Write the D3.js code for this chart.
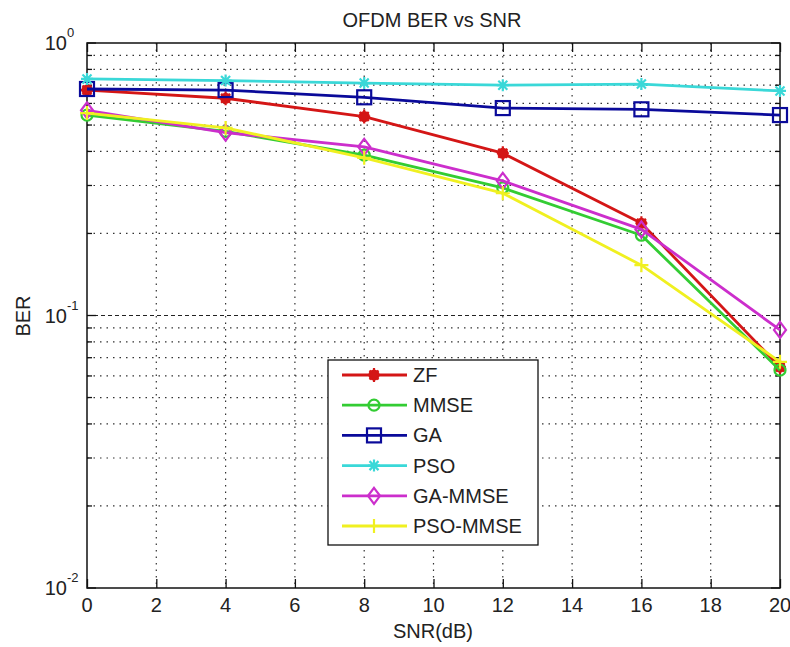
<!DOCTYPE html>
<html>
<head>
<meta charset="utf-8">
<script src="https://cdn.jsdelivr.net/npm/d3@7"></script>
<style>
  html, body { margin: 0; padding: 0; background: #fff; }
  svg { display: block; }
  text { font-family: "Liberation Sans", Arial, sans-serif; fill: #222; }
</style>
</head>
<body>
<svg id="chart" width="790" height="647"></svg>
<script>
// SNR points (dB)
const snr = [0, 4, 8, 12, 16, 20];

// Bit error rate per detector
const zf      = [0.672, 0.627, 0.537, 0.394, 0.218, 0.0647];
const mmse    = [0.544, 0.474, 0.388, 0.294, 0.197, 0.063];
const ga      = [0.678, 0.672, 0.632, 0.577, 0.571, 0.544];
const pso     = [0.738, 0.728, 0.713, 0.700, 0.707, 0.667];
const gaMmse  = [0.566, 0.469, 0.416, 0.312, 0.207, 0.0885];
const psoMmse = [0.553, 0.488, 0.379, 0.281, 0.153, 0.0676];

const seriesNames = ["ZF", "MMSE", "GA", "PSO", "GA-MMSE", "PSO-MMSE"];
const seriesValues = [zf, mmse, ga, pso, gaMmse, psoMmse];
const seriesColors = ["#d41616", "#33cc33", "#0a0a9a", "#3ad8d8", "#cc2ecc", "#f0f020"];
const seriesMarkers = ["star", "circle", "square", "asterisk", "diamond", "plus"];

const xTicks = [0, 2, 4, 6, 8, 10, 12, 14, 16, 18, 20];
const yDecades = [-2, -1, 0];

const svg = d3.select("#chart");
const L = 87, R = 780, T = 43, B = 588;

const x = d3.scaleLinear().domain([0, 20]).range([L, R]);
const y = d3.scaleLog().domain([0.01, 1]).range([B, T]);

// grid
const grid = svg.append("g");
xTicks.filter(t => t > 0 && t < 20).forEach(t => {
  grid.append("line")
    .attr("x1", x(t)).attr("x2", x(t)).attr("y1", T).attr("y2", B)
    .attr("stroke", "#333").attr("stroke-width", 1.2)
    .attr("stroke-dasharray", "1.5,5");
});
const minorY = [];
[-2, -1].forEach(d => { for (let k = 2; k <= 9; k++) minorY.push(k * Math.pow(10, d)); });
minorY.forEach(v => {
  grid.append("line")
    .attr("x1", L).attr("x2", R).attr("y1", y(v)).attr("y2", y(v))
    .attr("stroke", "#333").attr("stroke-width", 1.2)
    .attr("stroke-dasharray", "1.5,5");
});
grid.append("line")
  .attr("x1", L).attr("x2", R).attr("y1", y(0.1)).attr("y2", y(0.1))
  .attr("stroke", "#222").attr("stroke-width", 1.2)
  .attr("stroke-dasharray", "4,3");

// axes with inward ticks
const xAxisB = d3.axisBottom(x).tickValues(xTicks).tickSize(-9).tickFormat("");
const xAxisT = d3.axisTop(x).tickValues(xTicks).tickSize(-9).tickFormat("");
svg.append("g").attr("transform", `translate(0,${B})`).call(xAxisB)
  .call(g => g.select(".domain").remove())
  .selectAll("line").attr("stroke", "#111").attr("stroke-width", 1.3);
svg.append("g").attr("transform", `translate(0,${T})`).call(xAxisT)
  .call(g => g.select(".domain").remove())
  .selectAll("line").attr("stroke", "#111").attr("stroke-width", 1.3);

const majorY = yDecades.map(d => Math.pow(10, d));
[[L, 1], [R, -1]].forEach(([px, dir]) => {
  majorY.forEach(v => {
    svg.append("line").attr("x1", px).attr("x2", px + dir * 9)
      .attr("y1", y(v)).attr("y2", y(v)).attr("stroke", "#111").attr("stroke-width", 1.3);
  });
  minorY.forEach(v => {
    svg.append("line").attr("x1", px).attr("x2", px + dir * 5)
      .attr("y1", y(v)).attr("y2", y(v)).attr("stroke", "#111").attr("stroke-width", 1.3);
  });
});

// frame
svg.append("rect").attr("x", L).attr("y", T).attr("width", R - L).attr("height", B - T)
  .attr("fill", "none").attr("stroke", "#111").attr("stroke-width", 1.5);

// tick labels
svg.append("g").selectAll("text").data(xTicks).join("text")
  .attr("x", d => x(d)).attr("y", B + 24)
  .attr("text-anchor", "middle").attr("font-size", 20)
  .text(d => d);

const yl = svg.append("g").selectAll("g").data(yDecades).join("g")
  .attr("transform", d => `translate(0,${y(Math.pow(10, d))})`);
yl.append("text").attr("x", 67).attr("y", 7)
  .attr("text-anchor", "end").attr("font-size", 20).text("10");
yl.append("text").attr("x", 67).attr("y", -6)
  .attr("text-anchor", "start").attr("font-size", 13).text(d => d);

// titles
svg.append("text").attr("x", 432).attr("y", 27).attr("text-anchor", "middle")
  .attr("font-size", 20).text("OFDM BER vs SNR");
svg.append("text").attr("x", 433).attr("y", 638).attr("text-anchor", "middle")
  .attr("font-size", 20).text("SNR(dB)");
svg.append("text").attr("transform", "translate(30,316) rotate(-90)")
  .attr("text-anchor", "middle").attr("font-size", 20).text("BER");

// marker shapes
function drawMarker(g, type, cx, cy, color) {
  const m = g.append("g").attr("transform", `translate(${cx},${cy})`)
    .attr("stroke", color).attr("fill", "none").attr("stroke-width", 2.2);
  if (type === "square") {
    m.append("rect").attr("x", -7).attr("y", -7).attr("width", 14).attr("height", 14);
  } else if (type === "circle") {
    m.append("circle").attr("r", 5.5);
  } else if (type === "diamond") {
    m.append("path").attr("d", "M0,-8L6,0L0,8L-6,0Z");
  } else if (type === "plus") {
    m.append("path").attr("d", "M-7,0H7M0,-7V7");
  } else if (type === "asterisk") {
    m.append("path").attr("d", "M-6,0H6M0,-6V6M-4.5,-4.5L4.5,4.5M-4.5,4.5L4.5,-4.5");
  } else if (type === "star") {
    m.append("circle").attr("r", 4.5).attr("fill", color);
    m.append("path").attr("d", "M-6,0H6M0,-7V7M-4.5,-4.5L4.5,4.5M-4.5,4.5L4.5,-4.5");
  }
}

// series
const line = d3.line().x(d => x(d[0])).y(d => y(d[1]));
const plot = svg.append("g");
seriesValues.forEach((vals, i) => {
  const pts = snr.map((s, j) => [s, vals[j]]);
  plot.append("path").datum(pts).attr("d", line)
    .attr("fill", "none").attr("stroke", seriesColors[i]).attr("stroke-width", 2.8)
    .attr("stroke-linejoin", "round");
  pts.forEach(p => drawMarker(plot, seriesMarkers[i], x(p[0]), y(p[1]), seriesColors[i]));
});

// legend
const lg = svg.append("g");
lg.append("rect").attr("x", 328).attr("y", 360).attr("width", 210).attr("height", 185)
  .attr("fill", "#fff").attr("stroke", "#111").attr("stroke-width", 1.3);
seriesNames.forEach((name, i) => {
  const ly = 375 + i * 30.2;
  lg.append("line").attr("x1", 342).attr("x2", 407).attr("y1", ly).attr("y2", ly)
    .attr("stroke", seriesColors[i]).attr("stroke-width", 2.8);
  drawMarker(lg, seriesMarkers[i], 374, ly, seriesColors[i]);
  lg.append("text").attr("x", 413).attr("y", ly + 7).attr("font-size", 20).text(name);
});
</script>
</body>
</html>
